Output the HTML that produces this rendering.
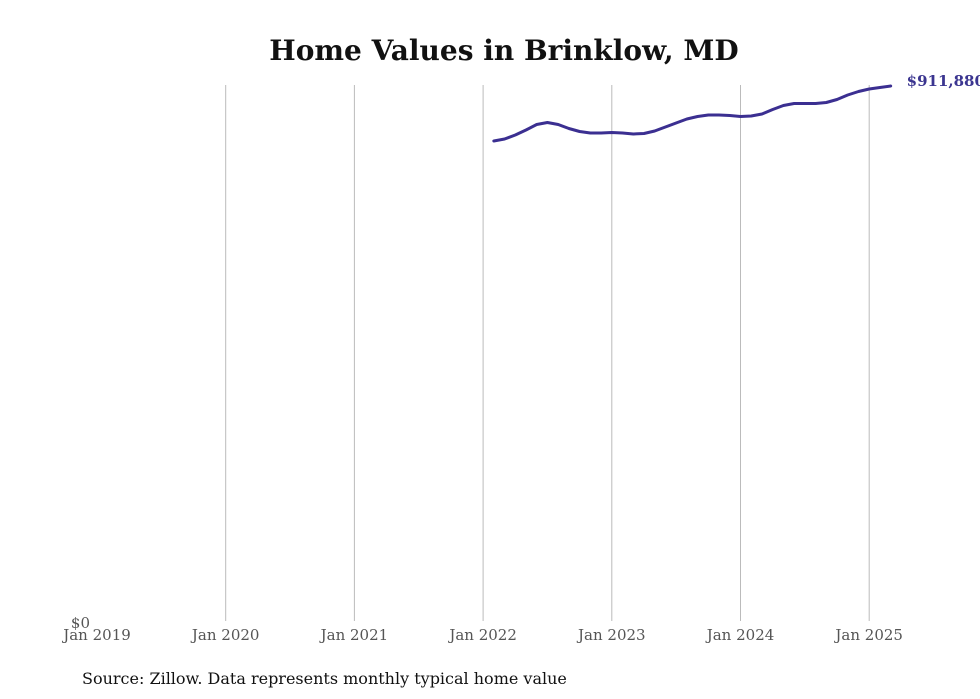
<!DOCTYPE html>
<html><head><meta charset="utf-8">
<style>
html,body{margin:0;padding:0;background:#fff;width:980px;height:699px;overflow:hidden;}
svg{display:block;font-family:"DejaVu Serif","Liberation Serif",serif;}
</style></head>
<body>
<svg id="chart" width="980" height="699" viewBox="0 0 980 699">
<text x="504" y="60" text-anchor="middle" font-size="28" font-weight="bold" fill="#111">Home Values in Brinklow, MD</text>
<g id="grid"></g>
<g id="xticks"></g>
<text x="90" y="628" text-anchor="end" font-size="15" fill="#555">$0</text>
<path id="line" fill="none" stroke="#3b2f91" stroke-width="3" stroke-linejoin="round" stroke-linecap="round"></path>
<text id="endlabel" font-size="15" font-weight="bold" fill="#3b3590"></text>
<text x="82" y="684" font-size="16" fill="#111">Source: Zillow. Data represents monthly typical home value</text>
</svg>
<script>
const tickLabels = ["Jan 2019","Jan 2020","Jan 2021","Jan 2022","Jan 2023","Jan 2024","Jan 2025"];
const tickYears = [2019,2020,2021,2022,2023,2024,2025];
const startYear = 2022, startMonth = 1; // Feb 2022 (0-based month)
const values = [818300,821700,828500,837000,846400,849800,846400,839600,834500,831900,831900,
832800,831900,830200,831100,835300,842100,849000,855800,860000,862600,862600,861700,
860000,860900,864300,871900,878700,882100,882100,882100,883800,888900,896600,902500,
906800,909300,911880];
const endLabel = "$911,880";

const NS = "http://www.w3.org/2000/svg";
const x0 = 97, pxPerYear = 128.7;
const yZero = 622, yTop = 86, yMax = 911880;
function xScale(yearFrac){ return x0 + (yearFrac - 2019) * pxPerYear; }
function yScale(v){ return yZero - v / yMax * (yZero - yTop); }

const grid = document.getElementById('grid');
const xt = document.getElementById('xticks');
tickYears.forEach((yr, i) => {
  const x = xScale(yr);
  if (i > 0) {
    const l = document.createElementNS(NS, 'line');
    l.setAttribute('x1', x); l.setAttribute('x2', x);
    l.setAttribute('y1', 85); l.setAttribute('y2', 621);
    l.setAttribute('stroke', '#bbb'); l.setAttribute('stroke-width', 1);
    
    
    grid.appendChild(l);
  }
  const t = document.createElementNS(NS, 'text');
  t.setAttribute('x', x); t.setAttribute('y', 640);
  t.setAttribute('text-anchor', 'middle');
  t.setAttribute('font-size', '15'); t.setAttribute('fill', '#555');
  t.textContent = tickLabels[i];
  
  
  xt.appendChild(t);
});

let d = '';
let lx = 0, ly = 0;
values.forEach((v, i) => {
  const m = startMonth + i;
  const x = xScale(startYear + m / 12);
  const y = yScale(v);
  d += (i ? 'L' : 'M') + x.toFixed(1) + ',' + y.toFixed(1);
  lx = x; ly = y;
});
document.getElementById('line').setAttribute('d', d);
const el = document.getElementById('endlabel');
el.setAttribute('x', lx + 16);
el.setAttribute('y', ly);
el.textContent = endLabel;
</script>
</body></html>
